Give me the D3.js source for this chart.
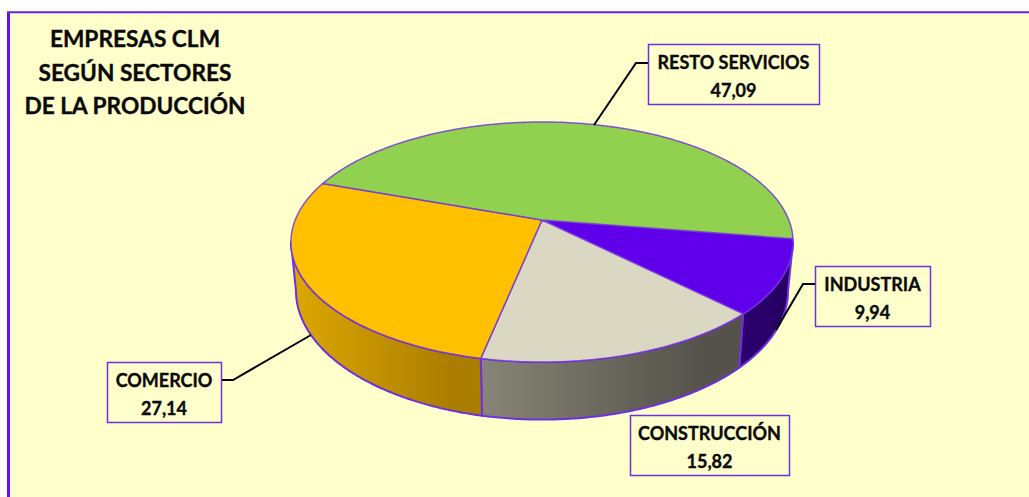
<!DOCTYPE html>
<html>
<head>
<meta charset="utf-8">
<script src="https://cdn.jsdelivr.net/npm/d3@7"></script>
<style>
  html, body { margin: 0; padding: 0; background: #fff; overflow: hidden; }
  svg { display: block; }
  text { font-family: Lato, "Open Sans", sans-serif; font-weight: 700; fill: #0a0a0a; stroke: #0a0a0a; stroke-width: 0.35px; text-anchor: middle; }
</style>
</head>
<body>
<div id="chartArea"></div>
<script>
// data setup
var categories = ["INDUSTRIA", "CONSTRUCCIÓN", "COMERCIO", "RESTO SERVICIOS"];
var values = [9.94, 15.82, 27.14, 47.09];
var valueLabels = ["9,94", "15,82", "27,14", "47,09"];
var titleLines = ["EMPRESAS CLM", "SEGÚN SECTORES", "DE LA PRODUCCIÓN"];

// colours, same order as categories
var topColors = ["#6000EA", "#DAD8C2", "#FFC000", "#92D050"];
var wallColors = [["#2C0070", "#260062"], ["#878576", "#54524A"], ["#DDA800", "#AB7D00"], ["#000", "#000"]];

// label boxes and their leader lines
var boxes = [
  { x: 815, y: 266, w: 115, h: 60, leader: [[815, 284], [803, 284], [776, 330]] },
  { x: 630, y: 415, w: 159, h: 60, leader: null },
  { x: 107, y: 362, w: 114, h: 60, leader: [[221, 380], [233, 380], [311, 335]] },
  { x: 648, y: 44, w: 171, h: 60, leader: [[648, 63], [636, 63], [594, 125]] }
];

var width = 1029, height = 497;
var purple = "#7030E0";

// the pie is seen in perspective, so the apex sits above the middle of the ellipse
var cx = 542, cy = 220, R = 246.8, S = 116, k = 0.1833, D = 47, lowerScale = 0.98;
var startDeg = 99;

function project(angle, lower) {
  var u = Math.sin(angle), v = -Math.cos(angle);
  var w = 1 - k * v;
  var s = lower ? lowerScale : 1;
  return [cx + s * R * u / w, cy + S * v / w + (lower ? D / w : 0)];
}

// rim points between two angles
function rim(a0, a1, lower) {
  var n = Math.max(2, Math.ceil(Math.abs(a1 - a0) / 0.01));
  return d3.range(n + 1).map(function(i) {
    return project(a0 + (a1 - a0) * i / n, lower);
  });
}

var svg = d3.select("#chartArea").append("svg")
  .attr("width", width)
  .attr("height", height);

var line = d3.line();

// frame, runs off the right and bottom of the picture
svg.append("rect")
  .attr("x", 8).attr("y", 12)
  .attr("width", width).attr("height", height)
  .attr("fill", "#FFFFCC");

svg.append("path")
  .attr("d", line([[8.5, height], [8.5, 12.25]]))
  .attr("fill", "none")
  .attr("stroke", "#6A10EC")
  .attr("stroke-width", 3);

svg.append("path")
  .attr("d", line([[7, 12.25], [width, 12.25]]))
  .attr("fill", "none")
  .attr("stroke", "#6A20E4")
  .attr("stroke-width", 2);

var pie = d3.pie()
  .sort(null)
  .startAngle(startDeg * Math.PI / 180)
  .endAngle(startDeg * Math.PI / 180 + 2 * Math.PI);

var arcs = pie(values);

// only this part of the side wall faces the viewer
var wallFrom = Math.acos(-k);
var wallTo = 2 * Math.PI - wallFrom;

var defs = svg.append("defs");

// side walls
arcs.forEach(function(d, i) {
  var a0 = Math.max(d.startAngle, wallFrom);
  var a1 = Math.min(d.endAngle, wallTo);
  if (a1 <= a0) return;

  var pts = rim(a0, a1, false).concat(rim(a1, a0, true));
  var xs = d3.extent(pts, function(p) { return p[0]; });

  var grad = defs.append("linearGradient")
    .attr("id", "wall" + i)
    .attr("gradientUnits", "userSpaceOnUse")
    .attr("x1", xs[0]).attr("x2", xs[1])
    .attr("y1", 0).attr("y2", 0);
  grad.append("stop").attr("offset", 0).attr("stop-color", wallColors[i][0]);
  grad.append("stop").attr("offset", 0.85).attr("stop-color", wallColors[i][1]);

  svg.append("path")
    .attr("d", line(pts) + "Z")
    .attr("fill", "url(#wall" + i + ")")
    .attr("stroke", purple)
    .attr("stroke-width", 2)
    .attr("stroke-linejoin", "round");
});

// top face
svg.selectAll("path.slice")
  .data(arcs)
  .enter()
  .append("path")
  .attr("class", "slice")
  .attr("d", function(d) {
    return line([[cx, cy]].concat(rim(d.startAngle, d.endAngle, false))) + "Z";
  })
  .attr("fill", function(d, i) { return topColors[i]; })
  .attr("stroke", purple)
  .attr("stroke-opacity", 0.8)
  .attr("stroke-width", 1.5)
  .attr("stroke-linejoin", "round");

// leader lines
boxes.forEach(function(b) {
  if (!b.leader) return;
  svg.append("path")
    .attr("d", line(b.leader))
    .attr("fill", "none")
    .attr("stroke", "#000")
    .attr("stroke-width", 2);
});

// label boxes
categories.forEach(function(name, i) {
  var b = boxes[i];
  svg.append("rect")
    .attr("x", b.x + 0.5).attr("y", b.y + 0.5)
    .attr("width", b.w).attr("height", b.h)
    .attr("fill", "#FFFFCC")
    .attr("stroke", purple)
    .attr("stroke-width", 1.5);
  svg.append("text")
    .attr("x", b.x + b.w / 2).attr("y", b.y + 25)
    .attr("font-size", 18)
    .text(name);
  svg.append("text")
    .attr("x", b.x + b.w / 2).attr("y", b.y + 53)
    .attr("font-size", 18)
    .text(valueLabels[i]);
});

// title
svg.selectAll("text.title")
  .data(titleLines)
  .enter()
  .append("text")
  .attr("class", "title")
  .attr("x", 135)
  .attr("y", function(d, i) { return 47 + i * 33.5; })
  .attr("font-size", 22.7)
  .text(function(d) { return d; });
</script>
</body>
</html>
